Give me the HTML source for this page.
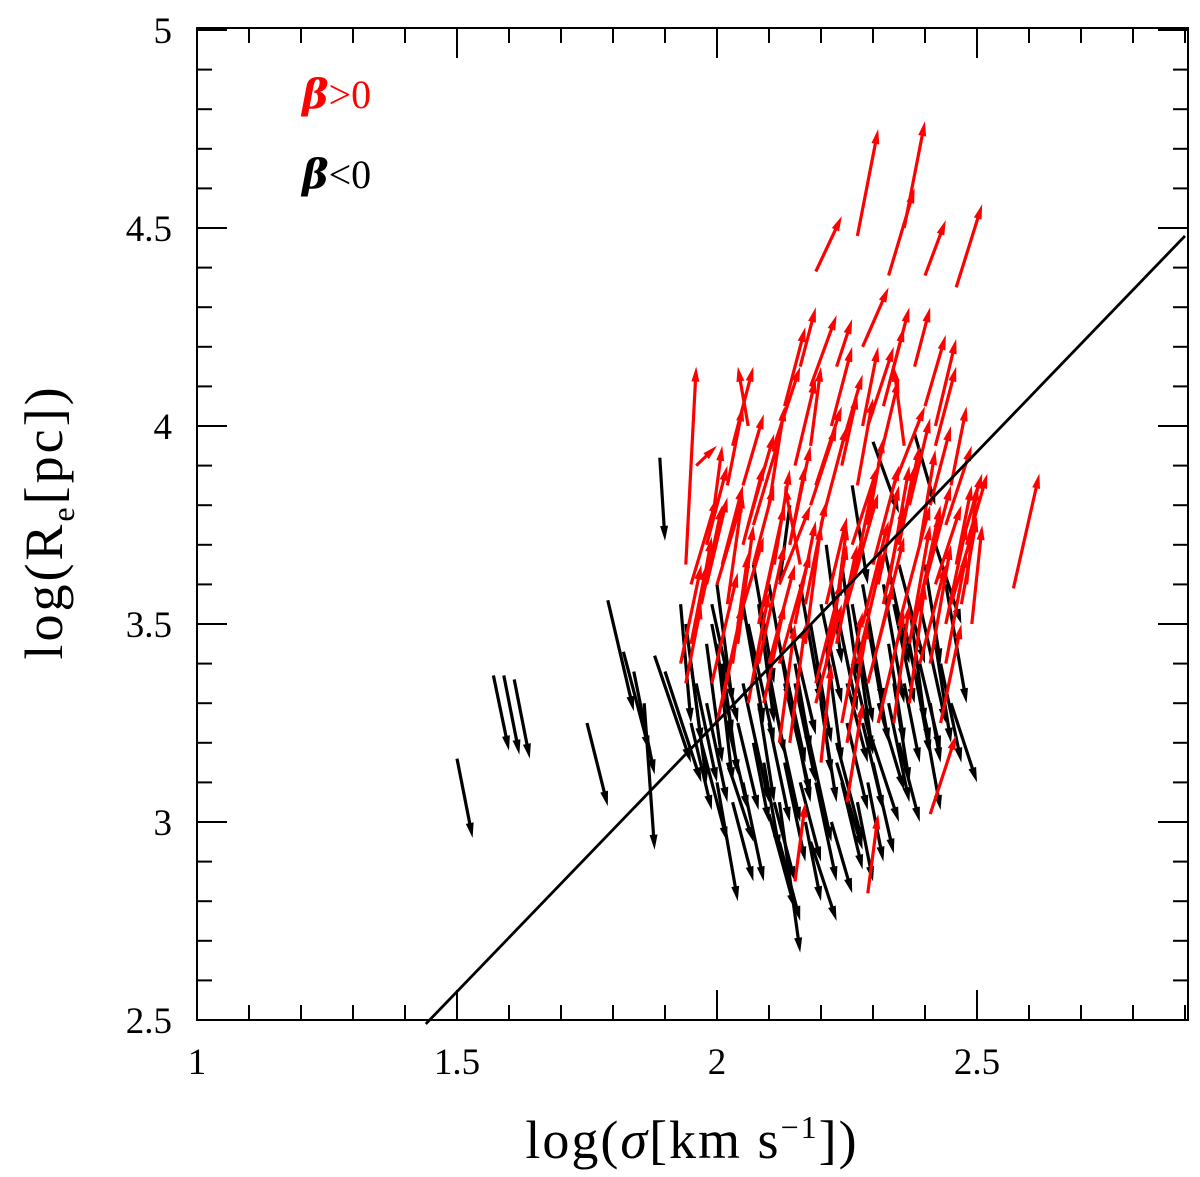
<!DOCTYPE html>
<html><head><meta charset="utf-8"><style>
html,body{margin:0;padding:0;background:#fff;}
svg{display:block;}
text{font-family:"Liberation Serif",serif;}
</style></head><body>
<svg id="chart" width="1200" height="1177" viewBox="0 0 1200 1177" xmlns="http://www.w3.org/2000/svg">
<g id="arrows-black"></g>
<g id="arrows-red"></g>
<g id="fitline"></g>
<g id="axes"></g>
<text x="302" y="108" font-size="40" fill="#ff0000"><tspan font-weight="bold" font-style="italic" font-family="DejaVu Serif,serif">β</tspan>&gt;0</text>
<text x="302" y="188" font-size="40" fill="#000"><tspan font-weight="bold" font-style="italic" font-family="DejaVu Serif,serif">β</tspan>&lt;0</text>
<text x="692" y="1158" font-size="54" letter-spacing="2" text-anchor="middle">log(<tspan font-style="italic">σ</tspan>[km  s<tspan font-size="32" dy="-20">−1</tspan><tspan dy="20">])</tspan></text>
<text transform="translate(62,522) rotate(-90)" font-size="54" letter-spacing="3" text-anchor="middle">log(R<tspan font-size="32" dy="12">e</tspan><tspan dy="-12">[pc])</tspan></text>
</svg>
<script>
// data
const xTicks = [1, 1.5, 2, 2.5];
const yTicks = [2.5, 3, 3.5, 4, 4.5, 5];
const fitX = [1.44, 2.9];
const fitY = [2.49, 4.48];
// red arrows (beta>0): tail x, tail y, head x, head y
const redX0 = [2.19,2.27,2.36,2.33,2.40,2.46,2.57,2.41,2.29,2.15,1.96,1.94,
 1.95,1.97,2.00,2.03,2.05,2.08,2.10,2.12,2.15,2.17,2.20,2.22,2.25,2.27,2.30,2.32,2.35,2.37,2.40,2.42,2.45,2.47,
 2.02,2.06,2.13,2.18,2.23,2.28,2.33,2.38,1.99,1.94,2.09,2.14,2.19,2.24,2.29,2.34,2.39,2.44,2.07,2.16,2.21,2.26,
 2.31,2.36,2.41,2.46,2.11,2.04,2.20,2.25,2.33,2.18,2.28,2.01,2.10,2.23,2.35,2.44,2.06,2.14,2.31,2.39,2.48,1.98,2.26,2.42];
const redY0 = [4.39,4.48,4.50,4.38,4.38,4.35,3.59,3.02,2.82,2.85,3.90,3.65,
 3.45,3.55,3.60,3.40,3.70,3.50,3.80,3.60,3.90,3.45,3.75,4.00,3.55,3.85,3.65,4.05,3.50,3.80,3.60,3.95,3.55,3.70,
 3.85,4.00,4.05,4.10,4.15,4.20,4.10,4.15,3.75,3.35,3.30,3.20,3.30,3.25,3.35,3.25,3.40,3.75,3.65,3.65,3.55,3.70,
 3.90,3.95,3.80,3.65,3.95,3.50,3.15,3.05,3.60,3.95,4.00,3.30,3.40,3.45,3.70,3.50,3.75,3.70,3.45,3.55,3.60,3.60,3.60,4.00];
const redX1 = [2.24,2.31,2.40,2.38,2.44,2.51,2.62,2.46,2.31,2.17,2.00,1.96,
 1.98,2.01,2.05,2.06,2.09,2.13,2.13,2.18,2.19,2.20,2.25,2.26,2.31,2.30,2.35,2.36,2.41,2.41,2.45,2.46,2.50,2.51,
 2.05,2.04,2.17,2.23,2.26,2.33,2.37,2.41,2.01,1.97,2.13,2.17,2.24,2.28,2.34,2.37,2.44,2.49,2.11,2.13,2.25,2.31,
 2.35,2.34,2.45,2.49,2.16,2.09,2.22,2.28,2.37,2.20,2.31,2.05,2.15,2.27,2.39,2.48,2.11,2.18,2.36,2.43,2.50,2.02,2.30,2.46];
const redY1 = [4.53,4.75,4.77,4.60,4.52,4.56,3.88,3.22,3.02,3.05,3.95,4.15,
 3.65,3.80,3.82,3.68,3.90,3.80,4.05,3.80,4.12,3.75,4.00,4.20,3.83,4.07,3.90,4.25,3.80,4.02,3.85,4.15,3.77,3.88,
 4.05,4.15,4.25,4.28,4.27,4.35,4.30,4.30,3.95,3.55,3.55,3.50,3.55,3.53,3.60,3.55,3.65,3.95,3.85,3.85,3.77,3.90,
 4.12,4.15,4.00,3.85,4.15,3.72,3.40,3.30,3.90,4.15,4.20,3.55,3.65,3.70,3.95,3.75,3.98,3.95,3.72,3.80,3.85,3.82,3.85,4.22];
// red batch 2: tail x, tail y, offset dx, dy
const redX0b = [1.93,1.96,1.99,2.01,2.04,2.07,2.09,2.12,2.14,2.17,2.19,2.22,2.24,2.27,2.29,2.32,2.34,2.37,2.39,2.42,2.44,2.47,2.49,
 1.95,1.98,2.02,2.05,2.08,2.11,2.15,2.18,2.21,2.24,2.28,2.31,2.35,2.38,2.41,2.45,2.48,
 2.00,2.06,2.12,2.19,2.25,2.31,2.37,2.43,2.03,2.16,2.29,2.40];
const redY0b = [3.40,3.50,3.35,3.65,3.45,3.75,3.55,3.40,3.70,3.55,3.85,3.45,3.95,3.40,3.75,3.55,3.85,3.45,3.70,3.60,3.40,3.55,3.50,
 3.60,3.70,3.55,3.85,3.40,3.65,3.50,3.80,3.40,3.90,3.50,3.60,3.70,3.50,3.40,3.85,3.70,
 3.25,3.30,3.20,3.35,3.20,3.25,3.30,3.25,3.95,4.15,4.00,4.05];
const redDXb = [0.04,0.03,0.05,0.04,0.03,0.05,0.04,0.06,0.03,0.04,0.05,0.03,0.04,0.05,0.03,0.04,0.06,0.04,0.03,0.05,0.04,0.03,0.02,
 0.05,0.04,0.03,0.04,0.05,0.03,0.04,0.05,0.04,0.03,0.05,0.04,0.03,0.05,0.04,0.03,0.04,
 0.05,0.04,0.03,0.05,0.04,0.05,0.03,0.04,0.04,0.03,0.05,0.04];
const redDYb = [0.25,0.22,0.28,0.2,0.3,0.22,0.25,0.28,0.2,0.26,0.2,0.3,0.18,0.28,0.22,0.25,0.2,0.3,0.24,0.2,0.28,0.22,0.25,
 0.22,0.2,0.28,0.18,0.3,0.24,0.26,0.2,0.3,0.18,0.26,0.25,0.2,0.28,0.3,0.2,0.18,
 0.3,0.28,0.3,0.26,0.3,0.28,0.3,0.25,0.2,0.15,0.2,0.18];
// black arrows (beta<0)
const blkX0 = [1.89,1.50,1.57,1.59,1.61,1.75,1.79,1.82,1.84,1.86,1.88,1.90,2.00,2.12,2.10,2.45,2.30,2.38,2.42,
 1.95,1.98,2.00,2.02,2.05,2.07,2.09,2.11,2.13,2.15,2.17,2.19,2.21,2.23,2.25,2.27,2.29,2.31,2.33,2.35,2.37,2.39,2.41,
 2.05,2.12,2.18,2.22,2.08,2.16,2.24,2.32,2.40,2.14,2.26,1.97,2.03,2.20,2.28,2.36,1.93,2.10,2.26,2.34,1.99,2.15,2.30];
const blkY0 = [3.92,3.16,3.37,3.37,3.36,3.25,3.56,3.43,3.38,3.30,3.42,3.38,3.10,3.05,3.02,3.30,3.96,3.98,3.70,
 3.40,3.30,3.45,3.25,3.35,3.20,3.45,3.30,3.15,3.40,3.25,3.10,3.45,3.20,3.35,3.05,3.50,3.30,3.45,3.20,3.55,3.40,3.30,
 3.10,2.95,2.95,3.00,3.55,3.60,3.65,3.70,3.65,3.80,3.85,3.20,3.05,3.55,3.25,3.35,3.55,3.25,3.40,3.55,3.50,3.35,3.15];
const blkX1 = [1.90,1.53,1.60,1.62,1.64,1.79,1.84,1.87,1.88,1.88,1.95,1.97,2.04,2.16,2.15,2.50,2.35,2.42,2.47,
 1.98,2.02,2.03,2.06,2.10,2.10,2.13,2.16,2.17,2.18,2.22,2.23,2.24,2.28,2.29,2.30,2.33,2.36,2.36,2.39,2.40,2.43,2.43,
 2.09,2.16,2.23,2.26,2.11,2.20,2.27,2.37,2.43,2.12,2.29,2.02,2.07,2.24,2.32,2.39,1.95,2.14,2.30,2.38,2.03,2.19,2.34];
const blkY1 = [3.71,2.96,3.18,3.17,3.16,3.04,3.28,3.18,3.12,2.93,3.15,3.10,2.80,2.67,2.78,3.10,3.78,3.80,3.50,
 3.10,3.05,3.10,3.03,3.05,3.00,3.17,3.00,2.90,3.18,2.95,2.85,3.15,2.95,3.15,2.85,3.20,3.08,3.20,3.00,3.25,3.18,3.15,
 2.85,2.75,2.75,2.82,3.25,3.30,3.37,3.40,3.40,3.60,3.60,2.95,2.85,3.30,3.03,3.15,3.25,3.00,3.18,3.30,3.22,3.10,2.92];
// black batch 2: tail x, tail y, offset dx, dy
const blkX0b = [1.94,1.96,1.99,2.01,2.04,2.06,2.08,2.10,2.13,2.15,2.18,2.20,2.22,2.25,2.27,2.30,2.32,2.34,2.37,2.39,2.42,2.44,
 1.95,1.98,2.02,2.05,2.09,2.12,2.16,2.19,2.23,2.26,2.29,2.33,2.36,2.40,2.43,
 2.00,2.07,2.14,2.21,2.28,2.35,2.11,2.17,2.24];
const blkY0b = [3.50,3.35,3.55,3.40,3.25,3.50,3.30,3.60,3.35,3.25,3.50,3.30,3.60,3.25,3.45,3.20,3.60,3.35,3.45,3.55,3.45,3.60,
 3.25,3.45,3.15,3.55,3.15,3.45,3.10,3.40,3.15,3.55,3.10,3.30,3.50,3.25,3.40,
 3.60,3.65,3.50,3.70,3.60,3.65,3.05,3.00,3.10];
const blkDXb = [0.03,0.04,0.05,0.03,0.04,0.05,0.03,0.04,0.05,0.03,0.04,0.03,0.05,0.04,0.03,0.05,0.04,0.03,0.04,0.05,0.03,0.04,
 0.04,0.03,0.05,0.04,0.03,0.05,0.04,0.03,0.05,0.04,0.03,0.04,0.05,0.03,0.04,
 0.03,0.04,0.05,0.03,0.04,0.05,0.04,0.03,0.04];
const blkDYb = [-0.3,-0.25,-0.3,-0.28,-0.22,-0.3,-0.25,-0.3,-0.28,-0.2,-0.3,-0.25,-0.32,-0.22,-0.28,-0.2,-0.3,-0.25,-0.28,-0.3,-0.25,-0.3,
 -0.22,-0.3,-0.2,-0.3,-0.22,-0.3,-0.2,-0.28,-0.22,-0.3,-0.2,-0.25,-0.3,-0.22,-0.25,
 -0.3,-0.3,-0.28,-0.3,-0.3,-0.25,-0.2,-0.2,-0.22];

const X0 = 197, PX = 520, Y0 = 1020, PY = 396;
const sx = v => X0 + (v - 1) * PX;
const sy = v => Y0 - (v - 2.5) * PY;
const NS = 'http://www.w3.org/2000/svg';
function mk(tag, attrs, parent) {
  const e = document.createElementNS(NS, tag);
  for (const k in attrs) e.setAttribute(k, attrs[k]);
  parent.appendChild(e);
  return e;
}
function arrow(parent, x0, y0, x1, y1, col, name) {
  const ax = sx(x0), ay = sy(y0), bx = sx(x1), by = sy(y1);
  const dx = bx - ax, dy = by - ay, L = Math.hypot(dx, dy) || 1;
  const ux = dx / L, uy = dy / L, hl = 15, hw = 4;
  const g = mk('g', {}, parent);
  
  
  mk('line', {x1: ax, y1: ay, x2: bx - ux * hl * 0.6, y2: by - uy * hl * 0.6, stroke: col, 'stroke-width': 3.2}, g);
  const px = -uy, py = ux;
  const bxh = bx - ux * hl, byh = by - uy * hl;
  mk('polygon', {points: `${bx},${by} ${bxh + px * hw},${byh + py * hw} ${bxh - px * hw},${byh - py * hw}`, fill: col}, g);
}
const gb = document.getElementById('arrows-black');
for (let i = 0; i < blkX0.length; i++) arrow(gb, blkX0[i], blkY0[i], blkX1[i], blkY1[i], '#000', 'arrow-beta-negative');
for (let i = 0; i < blkX0b.length; i++) arrow(gb, blkX0b[i], blkY0b[i], blkX0b[i] + blkDXb[i], blkY0b[i] + blkDYb[i], '#000', 'arrow-beta-negative');
const gr = document.getElementById('arrows-red');
for (let i = 0; i < redX0.length; i++) arrow(gr, redX0[i], redY0[i], redX1[i], redY1[i], '#ff0000', 'arrow-beta-positive');
for (let i = 0; i < redX0b.length; i++) arrow(gr, redX0b[i], redY0b[i], redX0b[i] + redDXb[i], redY0b[i] + redDYb[i], '#ff0000', 'arrow-beta-positive');

const gf = document.getElementById('fitline');
const fl = mk('line', {x1: sx(fitX[0]), y1: sy(fitY[0]), x2: sx(fitX[1]), y2: sy(fitY[1]), stroke: '#000', 'stroke-width': 2.8}, gf);



// axes
const ga = document.getElementById('axes');
const fLeft = 197, fRight = 1188, fTop = 28, fBottom = 1020;
const fr = mk('rect', {x: fLeft, y: fTop, width: fRight - fLeft, height: fBottom - fTop, fill: 'none', stroke: '#000', 'stroke-width': 2}, ga);


for (let k = 10; k <= 29; k++) {
  const x = sx(k / 10), major = k % 5 === 0, L = major ? 30 : 15;
  if (x > fRight) break;
  mk('line', {x1: x, y1: fBottom, x2: x, y2: fBottom - L, stroke: '#000', 'stroke-width': 2}, ga);
  mk('line', {x1: x, y1: fTop, x2: x, y2: fTop + L, stroke: '#000', 'stroke-width': 2}, ga);
}
for (let k = 25; k <= 50; k++) {
  const y = sy(k / 10), major = k % 5 === 0, L = major ? 30 : 15;
  mk('line', {x1: fLeft, y1: y, x2: fLeft + L, y2: y, stroke: '#000', 'stroke-width': 2}, ga);
  mk('line', {x1: fRight, y1: y, x2: fRight - L, y2: y, stroke: '#000', 'stroke-width': 2}, ga);
}
xTicks.forEach(v => {
  const t = mk('text', {x: sx(v), y: 1074, 'font-size': 37, 'text-anchor': 'middle'}, ga);
  t.textContent = String(v);
  
  
});
yTicks.forEach(v => {
  const t = mk('text', {x: 172, y: sy(v) + 13, 'font-size': 37, 'text-anchor': 'end'}, ga);
  t.textContent = String(v);
  
  
});
</script>
</body></html>
